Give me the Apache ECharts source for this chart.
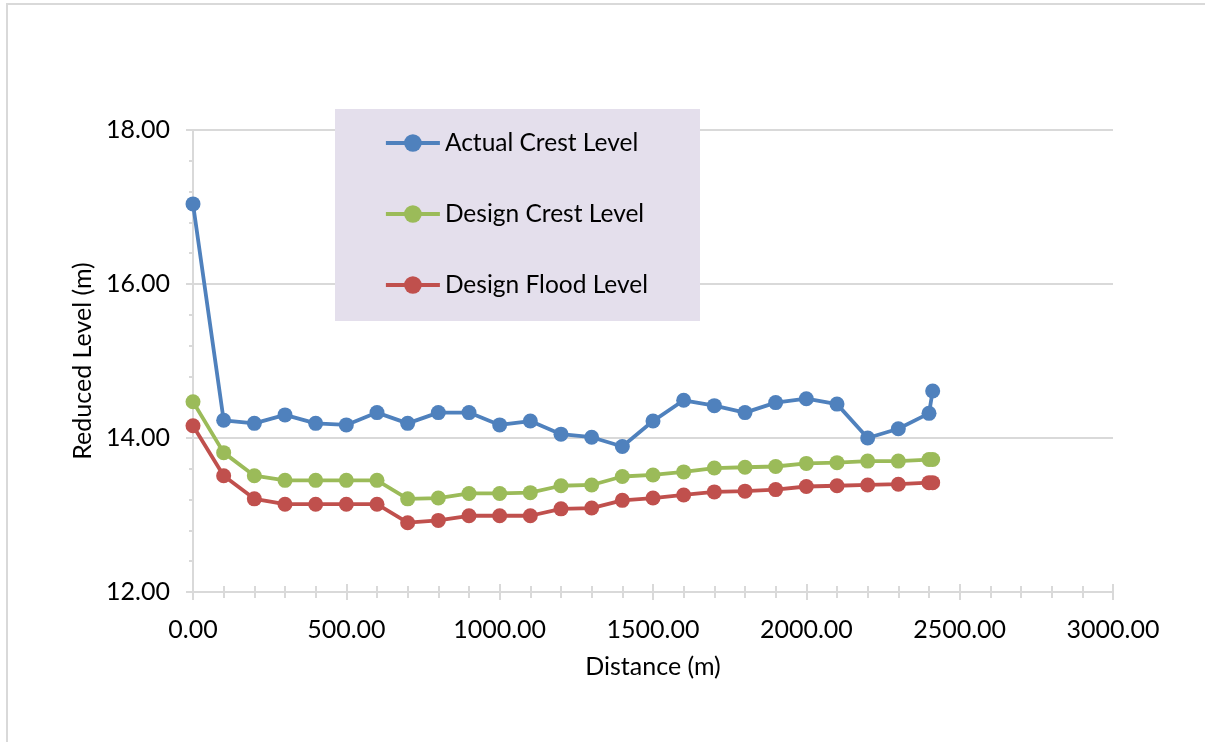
<!DOCTYPE html>
<html>
<head>
<meta charset="utf-8">
<script src="https://cdn.jsdelivr.net/npm/echarts@6/dist/echarts.min.js"></script>
<style>
  html, body { margin: 0; padding: 0; background: #fff; }
  #chart { width: 1205px; height: 742px; }
</style>
</head>
<body>
<div id="chart"></div>
<script>
// Chainage along the embankment (m)
const distance = [0, 100, 200, 300, 400, 500, 600, 700, 800, 900, 1000, 1100, 1200,
                  1300, 1400, 1500, 1600, 1700, 1800, 1900, 2000, 2100, 2200, 2300, 2400, 2412];

// Levels (m)
const actualCrest = [17.04, 14.23, 14.19, 14.30, 14.19, 14.17, 14.33, 14.19, 14.33, 14.33, 14.17, 14.22, 14.05,
                     14.01, 13.89, 14.22, 14.49, 14.42, 14.33, 14.46, 14.51, 14.44, 14.00, 14.12, 14.32, 14.61];
const designCrest = [14.47, 13.81, 13.51, 13.45, 13.45, 13.45, 13.45, 13.21, 13.22, 13.28, 13.28, 13.29, 13.38,
                     13.39, 13.50, 13.52, 13.56, 13.61, 13.62, 13.63, 13.67, 13.68, 13.70, 13.70, 13.72, 13.72];
const designFlood = [14.16, 13.51, 13.21, 13.14, 13.14, 13.14, 13.14, 12.90, 12.93, 12.99, 12.99, 12.99, 13.08,
                     13.09, 13.19, 13.22, 13.26, 13.30, 13.31, 13.33, 13.37, 13.38, 13.39, 13.40, 13.42, 13.42];

const seriesNames = ['Actual Crest Level', 'Design Crest Level', 'Design Flood Level'];
const seriesColors = ['#4F81BD', '#9BBB59', '#C0504D'];

const FONT = 'Lato';
const axisGrey = '#D9D9D9';

function pairs(ys) { return distance.map((x, i) => [x, ys[i]]); }

function lineSeries(name, ys, color) {
  return {
    name: name,
    type: 'line',
    data: pairs(ys),
    symbol: 'circle',
    symbolSize: 15,
    showSymbol: true,
    lineStyle: { color: color, width: 3.8 },
    itemStyle: { color: color },
    emphasis: { disabled: true },
    animation: false,
    z: 3
  };
}

const chart = echarts.init(document.getElementById('chart'), null, { renderer: 'canvas' });

chart.setOption({
  backgroundColor: '#ffffff',
  animation: false,
  textStyle: { fontFamily: FONT },
  grid: { left: 193, right: 92, top: 130, bottom: 150, containLabel: false },
  graphic: [
    {
      type: 'rect',
      z: -10,
      silent: true,
      shape: { x: 7, y: 4, width: 1400, height: 900 },
      style: { fill: 'none', stroke: '#D9D9D9', lineWidth: 2 }
    },
    {
      type: 'rect',
      z: 1,
      silent: true,
      shape: { x: 335, y: 109, width: 365, height: 212 },
      style: { fill: '#E4DFEC' }
    }
  ],
  legend: {
    orient: 'vertical',
    left: 384,
    top: 130,
    padding: 0,
    itemWidth: 54,
    itemHeight: 22,
    itemGap: 45,
    z: 5,
    selectedMode: false,
    data: seriesNames,
    lineStyle: { width: 3.8 },
    textStyle: { fontFamily: FONT, fontSize: 24.5, color: '#000', lineHeight: 26, padding: [0, 0, 0, 0] }
  },
  xAxis: [
    {
      type: 'value',
      position: 'bottom',
      min: 0, max: 3000, interval: 500,
      name: 'Distance (m)',
      nameLocation: 'middle',
      nameGap: 62,
      nameTextStyle: { fontFamily: FONT, fontSize: 25, color: '#000' },
      axisLine: { show: true, lineStyle: { color: axisGrey, width: 2 } },
      axisTick: { show: true, inside: false, length: 8, lineStyle: { color: axisGrey, width: 2 } },
      minorTick: { show: true, splitNumber: 5, length: 6, lineStyle: { color: axisGrey, width: 2 } },
      splitLine: { show: false },
      axisLabel: {
        margin: 25,
        fontFamily: FONT, fontSize: 25, color: '#000',
        formatter: v => v.toFixed(2)
      }
    },
    {
      // mirror ticks above the axis line so they cross it
      type: 'value',
      position: 'bottom',
      min: 0, max: 3000, interval: 500,
      axisLine: { show: false },
      axisTick: { show: true, inside: true, length: 8, lineStyle: { color: axisGrey, width: 2 } },
      minorTick: { show: true, splitNumber: 5, length: 6, lineStyle: { color: axisGrey, width: 2 } },
      splitLine: { show: false },
      axisLabel: { show: false }
    }
  ],
  yAxis: {
    type: 'value',
    min: 12, max: 18, interval: 2,
    name: 'Reduced Level (m)',
    nameLocation: 'middle',
    nameGap: 92,
    nameRotate: 90,
    nameTextStyle: { fontFamily: FONT, fontSize: 25, color: '#000' },
    axisLine: { show: true, lineStyle: { color: axisGrey, width: 2 } },
    axisTick: { show: true, inside: false, length: 7, lineStyle: { color: axisGrey, width: 2 } },
    minorTick: { show: true, splitNumber: 5, length: 4, lineStyle: { color: axisGrey, width: 2 } },
    splitLine: { show: true, lineStyle: { color: axisGrey, width: 2 } },
    axisLabel: {
      margin: 23,
      fontFamily: FONT, fontSize: 25, color: '#000',
      formatter: v => v.toFixed(2)
    }
  },
  series: [
    lineSeries(seriesNames[0], actualCrest, seriesColors[0]),
    lineSeries(seriesNames[1], designCrest, seriesColors[1]),
    lineSeries(seriesNames[2], designFlood, seriesColors[2])
  ]
});
</script>
</body>
</html>
